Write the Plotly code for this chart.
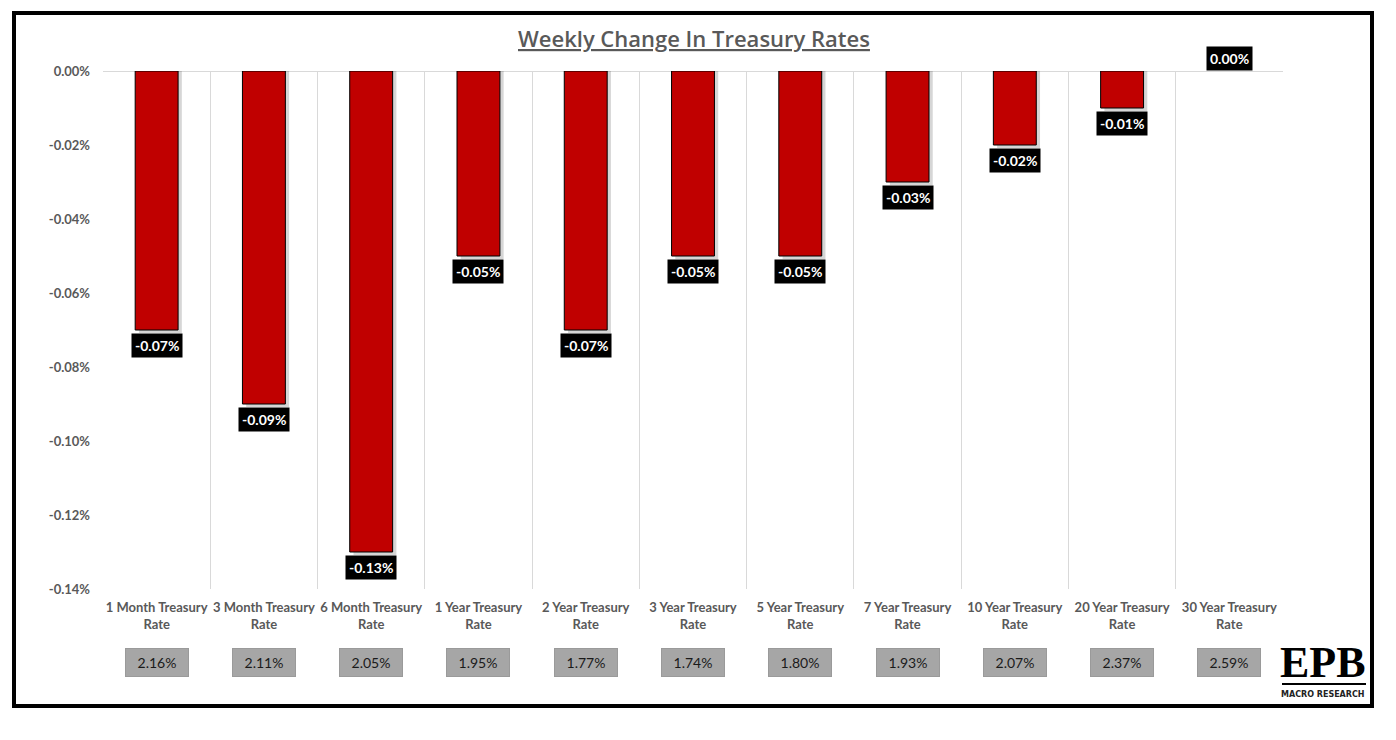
import plotly.graph_objects as go

categories = ["1 Month Treasury Rate", "3 Month Treasury Rate", "6 Month Treasury Rate",
              "1 Year Treasury Rate", "2 Year Treasury Rate", "3 Year Treasury Rate",
              "5 Year Treasury Rate", "7 Year Treasury Rate", "10 Year Treasury Rate",
              "20 Year Treasury Rate", "30 Year Treasury Rate"]
weekly_change = [-0.07, -0.09, -0.13, -0.05, -0.07, -0.05, -0.05, -0.03, -0.02, -0.01, 0.00]
current_rate = [2.16, 2.11, 2.05, 1.95, 1.77, 1.74, 1.80, 1.93, 2.07, 2.37, 2.59]
y_ticks = [0.00, -0.02, -0.04, -0.06, -0.08, -0.10, -0.12, -0.14]

W, H = 1396, 740
L, R, T, B = 103, 1283, 71, 589


def px(x):
    return (x - L) / (R - L)


def py(y):
    return (B - y) / (B - T)


tick_text = [c.replace(" Rate", "<br>Rate") for c in categories]
GREY = "#595959"
FONT = "Lato"

fig = go.Figure()

# soft shadow behind the bars
shadow = [v - 0.0008 if v < 0 else 0 for v in weekly_change]
fig.add_trace(go.Bar(x=categories, y=shadow, width=0.4, offset=-0.2 + 0.035,
                     marker=dict(color="rgba(0,0,0,0.16)", line=dict(width=0)),
                     hoverinfo="skip", showlegend=False))
fig.add_trace(go.Bar(x=categories, y=weekly_change, width=0.4, offset=-0.2,
                     marker=dict(color="#c00000",
                                 line=dict(color="#000000",
                                           width=[1 if v != 0 else 0 for v in weekly_change])),
                     showlegend=False))

annotations = []
for c, v in zip(categories, weekly_change):
    annotations.append(dict(
        x=c, y=v, xref="x", yref="y", text=f"<b>{v:.2f}%</b>", showarrow=False,
        yanchor="middle", xanchor="center",
        yshift=-15 if v < 0 else 13, bgcolor="#000000", borderpad=3,
        font=dict(family=FONT, size=14, color="#ffffff")))

for c, r in zip(categories, current_rate):
    annotations.append(dict(
        x=c, y=py(662), xref="x", yref="paper", text=f"{r:.2f}%", showarrow=False,
        yanchor="middle", xanchor="center",
        bgcolor="#a6a6a6", bordercolor="#9a9a9a", borderwidth=1, width=60, height=25,
        borderpad=1, font=dict(family=FONT, size=14, color="#1a1a1a")))

# title
annotations.append(dict(
    x=px(694), y=py(38), xref="paper", yref="paper", text="<u>Weekly Change In Treasury Rates</u>",
    showarrow=False, yanchor="middle", xanchor="center",
    font=dict(family="Open Sans", size=22, color=GREY, weight=600)))

# EPB logo
annotations.append(dict(
    x=px(1323), y=py(662), xref="paper", yref="paper", text="<b>EPB</b>", showarrow=False,
    yanchor="middle", xanchor="center",
    font=dict(family="Liberation Serif", size=44, color="#000000")))
annotations.append(dict(
    x=px(1323), y=py(694), xref="paper", yref="paper", text="<b>MACRO RESEARCH</b>", showarrow=False,
    yanchor="middle", xanchor="center",
    font=dict(family="DejaVu Sans", size=8, color="#222222")))

shapes = [
    dict(type="rect", xref="paper", yref="paper", x0=px(14), x1=px(1372), y0=py(13), y1=py(706),
         line=dict(color="#000000", width=4), fillcolor="rgba(0,0,0,0)", layer="below"),
    dict(type="line", xref="paper", yref="paper", x0=px(1282), x1=px(1366), y0=py(684), y1=py(684),
         line=dict(color="#000000", width=2)),
]

fig.update_layout(
    width=W, height=H, autosize=False,
    margin=dict(l=L, r=W - R, t=T, b=H - B, pad=0),
    paper_bgcolor="#ffffff", plot_bgcolor="#ffffff",
    barmode="overlay", bargap=0.6,
    annotations=annotations, shapes=shapes,
    xaxis=dict(type="category", tickson="boundaries", showgrid=True, gridcolor="#d9d9d9",
               gridwidth=1, ticks="", tickvals=categories, ticktext=tick_text, tickangle=0,
               tickfont=dict(family=FONT, size=13, color=GREY, weight="bold"),
               ticklabelstandoff=9, showline=False, zeroline=False,
               range=[-0.5, len(categories) - 0.5]),
    yaxis=dict(range=[-0.14, 0], showgrid=False, zeroline=True, zerolinecolor="#d9d9d9",
               zerolinewidth=1, tickvals=y_ticks, ticktext=[f"{t:.2f}%" for t in y_ticks],
               tickfont=dict(family=FONT, size=13, color=GREY, weight="bold"),
               ticks="", ticklabelstandoff=12, showline=False),
)

fig.write_html("out.html", config={"displayModeBar": False},
               post_script="document.body.style.margin='0';document.body.style.overflow='hidden';")
